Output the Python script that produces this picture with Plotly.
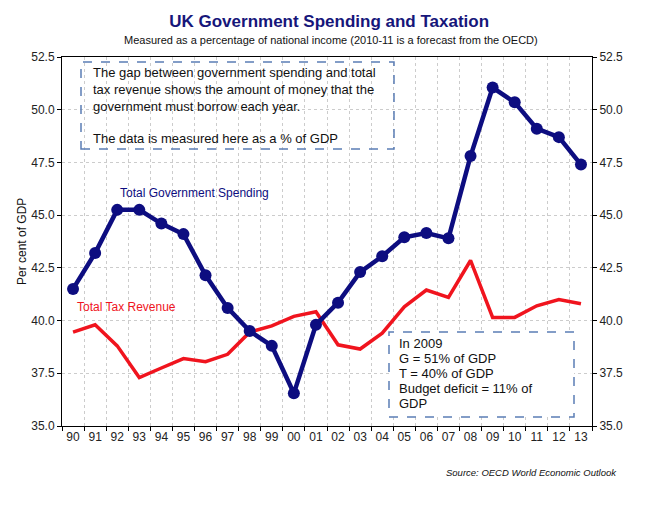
import plotly.graph_objects as go

years = ["90", "91", "92", "93", "94", "95", "96", "97", "98", "99", "00", "01",
         "02", "03", "04", "05", "06", "07", "08", "09", "10", "11", "12", "13"]
spending = [41.5, 43.2, 45.25, 45.25, 44.6, 44.1, 42.15, 40.6, 39.5, 38.8, 36.55, 39.8,
            40.85, 42.3, 43.05, 43.95, 44.15, 43.9, 47.8, 51.05, 50.35, 49.1, 48.7, 47.4]
tax = [39.45, 39.8, 38.8, 37.3, 37.75, 38.2, 38.05, 38.4, 39.45, 39.75, 40.2, 40.42,
       38.85, 38.65, 39.4, 40.65, 41.45, 41.1, 42.85, 40.15, 40.15, 40.7, 41.0, 40.8]
y_ticks = [35.0, 37.5, 40.0, 42.5, 45.0, 47.5, 50.0, 52.5]
box2_lines = ["In 2009", "G = 51% of GDP", "T = 40% of GDP", "Budget deficit = 11% of", "GDP"]

NAVY = "#0d0d80"
RED = "#f0141e"
FONT = "Liberation Sans, Arial, sans-serif"
GRID = "#cccccc"

fig = go.Figure()
fig.add_trace(go.Scatter(x=years, y=tax, mode="lines", line=dict(color=RED, width=3.5),
                         yaxis="y", showlegend=False))
fig.add_trace(go.Scatter(x=years, y=spending, mode="lines+markers",
                         line=dict(color=NAVY, width=4.5),
                         marker=dict(color=NAVY, size=12), yaxis="y2", showlegend=False))

axis_common = dict(range=[35, 52.5], tickvals=y_ticks, tickformat=".1f",
                   ticks="outside", ticklen=4, tickcolor="black",
                   tickfont=dict(family=FONT, size=12, color="#222"),
                   showline=True, linecolor="black", linewidth=1, zeroline=False)

fig.update_layout(
    width=648, height=512,
    margin=dict(l=62, r=56, t=57, b=86),
    paper_bgcolor="white", plot_bgcolor="white",
    title=dict(text="<b>UK Government Spending and Taxation</b>", x=0.508, xanchor="center",
               y=1 - 21 / 512, yanchor="middle",
               font=dict(family=FONT, size=17, color="#16167a")),
    xaxis=dict(type="category", range=[-0.5, 23.5], tickson="boundaries", tickangle=0,
               ticks="outside", ticklen=4, tickcolor="black",
               tickfont=dict(family=FONT, size=12, color="#222"),
               showgrid=True, gridcolor=GRID, griddash="dot", gridwidth=1,
               showline=True, linecolor="black", linewidth=1, mirror=True),
    yaxis=dict(**axis_common, side="left", mirror=True, showgrid=True,
               gridcolor=GRID, griddash="dot", gridwidth=1),
    yaxis2=dict(**axis_common, side="right", overlaying="y", showgrid=False),
)

def px_x(px):
    return (px - 62) / 530

def px_y(py):
    return (426 - py) / 369

shape_line = dict(color="#5b7db5", width=1.5, dash="dash")
fig.add_shape(type="rect", xref="paper", yref="paper", x0=px_x(81), x1=px_x(394),
              y0=px_y(149), y1=px_y(62), line=shape_line, fillcolor="rgba(0,0,0,0)")
fig.add_shape(type="rect", xref="paper", yref="paper", x0=px_x(389), x1=px_x(574),
              y0=px_y(417), y1=px_y(332), line=shape_line, fillcolor="white", layer="above")

text_font = dict(family=FONT, size=13, color="#111")
fig.add_annotation(xref="paper", yref="paper", x=px_x(91), y=px_y(63), xanchor="left",
                   yanchor="top", align="left", showarrow=False, font=text_font,
                   text="The gap between government spending and total<br>"
                        "tax revenue shows the amount of money that the<br>"
                        "government must borrow each year.")
fig.add_annotation(xref="paper", yref="paper", x=px_x(91), y=px_y(138), xanchor="left",
                   yanchor="middle", align="left", showarrow=False, font=text_font,
                   text="The data is measured here as a % of GDP")
for i, line in enumerate(box2_lines):
    fig.add_annotation(xref="paper", yref="paper", x=px_x(397), y=px_y(343 + 15.2 * i),
                       xanchor="left", yanchor="middle", align="left", showarrow=False,
                       font=text_font, text=line)

fig.add_annotation(xref="paper", yref="paper", x=px_x(194), y=px_y(193), xanchor="center",
                   yanchor="middle", showarrow=False,
                   font=dict(family=FONT, size=12, color=NAVY),
                   text="Total Government Spending")
fig.add_annotation(xref="paper", yref="paper", x=px_x(126), y=px_y(307), xanchor="center",
                   yanchor="middle", showarrow=False,
                   font=dict(family=FONT, size=12, color=RED),
                   text="Total Tax Revenue")

fig.add_annotation(xref="paper", yref="paper", x=px_x(331), y=px_y(40), xanchor="center",
                   yanchor="middle", showarrow=False,
                   font=dict(family=FONT, size=11, color="#111"),
                   text="Measured as a percentage of national income (2010-11 is a forecast from the OECD)")
fig.add_annotation(xref="paper", yref="paper", x=px_x(22), y=px_y(242), xanchor="center",
                   yanchor="middle", showarrow=False, textangle=-90,
                   font=dict(family=FONT, size=12, color="#111"),
                   text="Per cent of GDP")
fig.add_annotation(xref="paper", yref="paper", x=px_x(619), y=px_y(472), xanchor="right",
                   yanchor="middle", showarrow=False,
                   font=dict(family=FONT, size=9.5, color="#111", style="italic"),
                   text="Source: OECD World Economic Outlook")

fig.write_html("out.html", config={"displayModeBar": False},
               post_script="document.body.style.margin='0px';document.body.style.overflow='hidden';")
